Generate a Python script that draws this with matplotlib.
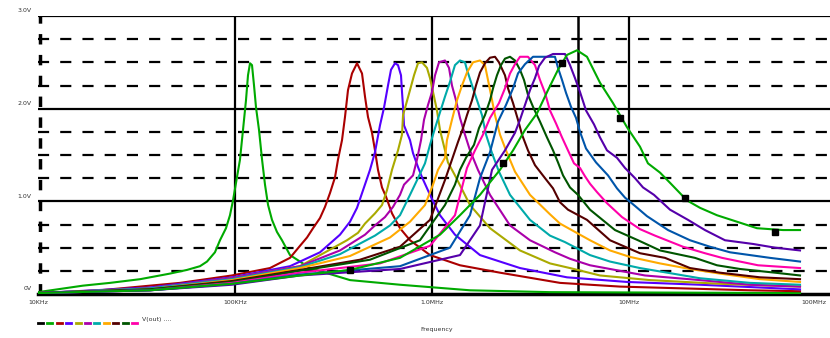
import matplotlib.pyplot as plt
from matplotlib.lines import Line2D

# frequency in kHz, amplitude in V
f_c1 = [10, 16.9, 23.2, 33.0, 46.7, 57.1, 66.4, 72.1, 79.1, 83.9, 90.0, 94.3, 97.7, 101.2, 106.0, 109.8,
        113.7, 116.4, 119.2, 122.0, 124.9, 127.9, 132.4, 137.2, 142.0, 147.2, 154.1, 163.3, 173.2, 190.2,
        240.3, 383.5, 688, 1559, 3972, 73820]
v_c1 = [0.02, 0.09, 0.12, 0.16, 0.22, 0.26, 0.30, 0.35, 0.45, 0.58, 0.71, 0.85, 1.01, 1.20, 1.45, 1.77,
        2.09, 2.36, 2.49, 2.47, 2.25, 2.01, 1.77, 1.45, 1.18, 0.96, 0.80, 0.67, 0.58, 0.42,
        0.28, 0.15, 0.10, 0.04, 0.02, 0.01]

f_c2 = [10, 20.6, 52.6, 96.5, 150.5, 190.2, 213.8, 232.1, 249.0, 270.1, 286.3, 303.6, 321.9, 333.3, 349.3,
        361.7, 374.6, 392.6, 416.3, 441.3, 457.0, 473.3, 496.0, 513.6, 531.9, 557.4, 584.2, 626.6, 688,
        773.3, 977, 1387, 2214, 4465, 9003, 41140, 73820]
v_c2 = [0.01, 0.04, 0.12, 0.20, 0.28, 0.39, 0.52, 0.61, 0.71, 0.82, 0.94, 1.09, 1.26, 1.45, 1.66,
        1.91, 2.20, 2.38, 2.49, 2.38, 2.13, 1.91, 1.74, 1.55, 1.34, 1.15, 1.05, 0.87, 0.71,
        0.58, 0.42, 0.31, 0.23, 0.12, 0.08, 0.04, 0.03]

f_c3 = [10, 37.0, 96.5, 190.2, 270.1, 341.2, 383.5, 416.3, 446.6, 484.5, 513.6, 544.5, 570.6, 597.9,
        619.3, 648.8, 672.1, 696.1, 704.3, 712.8, 721.0, 773.3, 801.1, 849.1, 889.8, 977, 1098, 1308,
        1752, 2797, 4844, 9768, 22930, 73820]
v_c3 = [0.01, 0.07, 0.18, 0.30, 0.45, 0.64, 0.78, 0.93, 1.12, 1.34, 1.53, 1.82, 2.01, 2.25,
        2.42, 2.49, 2.47, 2.36, 2.18, 2.02, 1.82, 1.66, 1.52, 1.37, 1.26, 1.07, 0.85, 0.64,
        0.42, 0.28, 0.18, 0.13, 0.10, 0.05]

f_c4 = [10, 37.0, 96.5, 213.8, 370.2, 421.1, 457.0, 513.6, 557.4, 590.8, 626.6, 672.1, 704.3, 712.8,
        773.3, 810.5, 849.1, 889.8, 943.0, 977, 1024, 1060, 1098, 1164, 1205, 1308, 1559, 1970, 2797,
        3972, 5018, 7126, 12780, 28970, 73820]
v_c4 = [0.01, 0.06, 0.17, 0.30, 0.58, 0.66, 0.76, 0.87, 0.96, 1.12, 1.34, 1.55, 1.72, 1.93,
        2.20, 2.36, 2.49, 2.50, 2.44, 2.33, 2.13, 1.98, 1.77, 1.55, 1.42, 1.28, 0.96, 0.71, 0.47,
        0.33, 0.28, 0.20, 0.15, 0.11, 0.08]

f_c5 = [10, 37.0, 96.5, 213.8, 341.2, 457.0, 513.6, 577.2, 634.1, 688, 721.0, 801.1, 839.0, 879.5,
        910.9, 954.4, 1000, 1036, 1085, 1164, 1220, 1263, 1324, 1387, 1470, 1559, 1711, 1970, 2489,
        3144, 4210, 5018, 6340, 8491, 12050, 22930, 41140, 73820]
v_c5 = [0.01, 0.06, 0.17, 0.30, 0.47, 0.64, 0.74, 0.83, 0.94, 1.07, 1.18, 1.28, 1.45, 1.66,
        1.88, 2.04, 2.18, 2.36, 2.50, 2.52, 2.44, 2.25, 2.09, 1.90, 1.72, 1.55, 1.34, 1.07, 0.74,
        0.58, 0.45, 0.38, 0.31, 0.26, 0.20, 0.15, 0.10, 0.08]

f_c6 = [10, 37.0, 96.5, 213.8, 341.2, 513.6, 612.1, 688, 773.3, 849.1, 921.4, 977, 1036, 1098, 1164,
        1234, 1308, 1387, 1470, 1505, 1615, 1711, 1794, 1880, 2017, 2188, 2489, 3144, 3972, 4733,
        6340, 8010, 11370, 22930, 41140, 73820]
v_c6 = [0.01, 0.06, 0.16, 0.29, 0.43, 0.63, 0.74, 0.85, 1.07, 1.25, 1.41, 1.61, 1.79, 1.96, 2.13,
        2.29, 2.47, 2.52, 2.50, 2.42, 2.22, 2.06, 1.93, 1.72, 1.52, 1.32, 1.07, 0.80, 0.63, 0.56,
        0.42, 0.35, 0.28, 0.17, 0.12, 0.10]

f_c7 = [10, 37.0, 96.5, 213.8, 383.5, 612.1, 773.3, 921.4, 1012, 1073, 1164, 1191, 1263, 1339, 1420,
        1505, 1615, 1752, 1857, 1924, 1993, 2088, 2214, 2375, 2638, 3144, 3972, 4465, 5319, 6340,
        8010, 10120, 14370, 20400, 28970, 46240, 73820]
v_c7 = [0.01, 0.05, 0.15, 0.28, 0.41, 0.61, 0.78, 0.96, 1.18, 1.34, 1.47, 1.66, 1.88, 2.09, 2.25,
        2.39, 2.50, 2.52, 2.47, 2.31, 2.15, 1.93, 1.72, 1.55, 1.32, 1.07, 0.86, 0.76, 0.67, 0.58,
        0.47, 0.40, 0.33, 0.27, 0.22, 0.16, 0.13]

f_c8 = [10, 37.0, 96.5, 213.8, 431.1, 688, 977, 1164, 1263, 1355, 1437, 1505, 1596, 1672, 1752, 1857,
        1970, 2088, 2188, 2347, 2431, 2579, 2732, 2863, 3071, 3333, 3747, 4115, 4465, 4901, 6120,
        8010, 11370, 15230, 20400, 28970, 46240, 73820]
v_c8 = [0.01, 0.05, 0.14, 0.26, 0.37, 0.51, 0.80, 1.23, 1.45, 1.64, 1.79, 1.93, 2.09, 2.25, 2.39, 2.49,
        2.55, 2.56, 2.50, 2.36, 2.22, 2.06, 1.88, 1.72, 1.55, 1.39, 1.25, 1.14, 0.99, 0.91, 0.80,
        0.58, 0.44, 0.39, 0.28, 0.23, 0.18, 0.16]

f_c9 = [10, 37.0, 96.5, 213.8, 484.5, 869.2, 1164, 1308, 1387, 1488, 1634, 1732, 1857, 1970, 2041,
        2137, 2240, 2347, 2489, 2638, 2797, 2931, 3071, 3257, 3534, 3834, 4115, 4362, 4626, 5018,
        5510, 6340, 8491, 11110, 14370, 21620, 27960, 36600, 55120, 73820]
v_c9 = [0.01, 0.05, 0.13, 0.25, 0.37, 0.58, 0.96, 1.18, 1.34, 1.47, 1.61, 1.79, 1.93, 2.09, 2.22,
        2.36, 2.47, 2.54, 2.56, 2.52, 2.42, 2.31, 2.15, 2.02, 1.86, 1.69, 1.55, 1.42, 1.28, 1.15,
        1.07, 0.91, 0.69, 0.58, 0.47, 0.39, 0.31, 0.27, 0.23, 0.20]

f_c10 = [10, 37.0, 96.5, 213.8, 544.5, 977, 1308, 1505, 1653, 1815, 1970, 2188, 2347, 2489, 2638,
         2797, 3071, 3333, 3534, 3747, 3972, 4262, 4571, 4901, 5259, 5641, 5980, 6340, 6878, 7732,
         9216, 11370, 13550, 18800, 24300, 29660, 45170, 73820]
v_c10 = [0.01, 0.04, 0.12, 0.23, 0.33, 0.52, 0.85, 1.36, 1.55, 1.72, 1.90, 2.06, 2.22, 2.38, 2.48,
         2.56, 2.56, 2.47, 2.31, 2.17, 1.98, 1.84, 1.69, 1.55, 1.41, 1.36, 1.27, 1.19, 1.10, 0.98,
         0.83, 0.70, 0.63, 0.51, 0.44, 0.39, 0.31, 0.28]

f_c11 = [10, 37.0, 96.5, 213.8, 688, 1234, 1559, 1752, 1970, 2163, 2375, 2579, 2732, 2965, 3257,
         4210, 4362, 4571, 4791, 5077, 5384, 5641, 6052, 6802, 7825, 8691, 9543, 10730, 12340,
         15780, 20400, 25770, 32560, 41140, 51970, 73820]
v_c11 = [0.01, 0.04, 0.11, 0.21, 0.30, 0.50, 0.85, 1.25, 1.53, 1.86, 2.04, 2.22, 2.38, 2.48, 2.56,
         2.56, 2.44, 2.31, 2.17, 2.02, 1.90, 1.75, 1.57, 1.42, 1.28, 1.14, 1.04, 0.95, 0.84,
         0.69, 0.58, 0.51, 0.45, 0.42, 0.39, 0.35]

f_c12 = [10, 37.0, 96.5, 213.8, 688, 1387, 1752, 2017, 2347, 2638, 2797, 2965, 3144, 3333, 3493,
         3747, 4115, 4733, 5018, 5319, 5641, 6052, 6645, 7126, 7732, 8691, 9543, 10730, 11780,
         13390, 16150, 19930, 24300, 30710, 42620, 55120, 73820]
v_c12 = [0.01, 0.04, 0.10, 0.20, 0.27, 0.42, 0.74, 1.34, 1.55, 1.74, 1.88, 2.04, 2.20, 2.33, 2.46,
         2.55, 2.59, 2.59, 2.47, 2.33, 2.18, 1.98, 1.83, 1.69, 1.55, 1.47, 1.36, 1.25, 1.15,
         1.07, 0.91, 0.80, 0.69, 0.58, 0.54, 0.50, 0.47]

f_c13 = [10, 37.0, 96.5, 213.8, 383.5, 688, 1098, 1387, 1752, 2214, 2579, 2965, 3413, 3880, 4362,
         4844, 5447, 6120, 7126, 8298, 9768, 11370, 12480, 14370, 16150, 19690, 22930, 27960,
         35330, 44630, 60530, 73820]
v_c13 = [0.01, 0.04, 0.11, 0.20, 0.26, 0.39, 0.64, 0.85, 1.07, 1.34, 1.55, 1.77, 1.95, 2.20, 2.42,
         2.58, 2.63, 2.56, 2.28, 2.06, 1.80, 1.59, 1.41, 1.31, 1.20, 1.01, 0.93, 0.85,
         0.78, 0.71, 0.69, 0.69]

# black square markers sitting on the last trace
f_marks = [383.5, 2294, 4571, 9003, 19240, 55120]
v_marks = [0.26, 1.41, 2.49, 1.90, 1.04, 0.67]

curve_colors = ["#00aa00", "#aa0000", "#5500ff", "#aaaa00", "#aa00aa", "#00aaaa", "#ffaa00",
                "#550000", "#005500", "#ff00aa", "#0055aa", "#5500aa", "#00aa00"]
legend_colors = ["#000000", "#00aa00", "#aa0000", "#5500ff", "#aaaa00", "#aa00aa", "#00aaaa",
                 "#ffaa00", "#550000", "#005500", "#ff00aa"]

x_ticks = [10, 100, 1000, 10000, 100000]
x_tick_labels = ["10KHz", "100KHz", "1.0MHz", "10MHz", "100MHz"]
y_ticks = [0, 1, 2, 3]
y_tick_labels = ["0V", "1.0V", "2.0V", "3.0V"]
cursor_khz = 5508

curves = [(f_c1, v_c1), (f_c2, v_c2), (f_c3, v_c3), (f_c4, v_c4), (f_c5, v_c5), (f_c6, v_c6),
          (f_c7, v_c7), (f_c8, v_c8), (f_c9, v_c9), (f_c10, v_c10), (f_c11, v_c11),
          (f_c12, v_c12), (f_c13, v_c13)]

W, H = 830, 338
fig = plt.figure(figsize=(W / 100, H / 100), dpi=100)
ax = fig.add_axes([38 / W, 44 / H, 1 - 38 / W, 278 / H])
ax.set_xscale("log")
ax.set_xlim(10, 104800)
ax.set_ylim(0, 3)

# grid: solid majors, dashed quarters
for y in [1, 2, 3]:
    ax.axhline(y, color="black", lw=1.6, zorder=1)
for k in range(12):
    if k % 4:
        ax.axhline(k * 0.25, color="black", lw=1.6, dashes=(5, 5), zorder=1)
for x in x_ticks[1:4]:
    ax.axvline(x, color="black", lw=1.6, zorder=1)
ax.axvline(cursor_khz, color="black", lw=1.8, zorder=1)

for (f, v), c in zip(curves, curve_colors):
    ax.plot(f, v, color=c, lw=1.5, zorder=3)
ax.plot(f_marks, v_marks, ls="none", marker="s", ms=4, color="black", zorder=4)

for side in ["top", "right", "left"]:
    ax.spines[side].set_visible(False)
ax.spines["bottom"].set_linewidth(2.5)
ax.axvline(10.2, color="black", lw=2.5, dashes=(3, 3), zorder=2, clip_on=False)

ax.set_xticks(x_ticks)
ax.set_xticklabels(x_tick_labels, fontsize=4.5, color="#333333")
ax.get_xticklabels()[-1].set_horizontalalignment("right")
ax.minorticks_off()
ax.tick_params(axis="x", length=0, pad=4)
ax.set_yticks([])
for y, lab in zip(y_ticks, y_tick_labels):
    ax.text(-0.008, y + 0.03, lab, transform=ax.get_yaxis_transform(), ha="right", va="bottom",
            fontsize=4.5, color="#333333")

fig.text(437 / W, 1 - 330 / H, "Frequency", ha="center", va="center", fontsize=4.5, color="#333333")

# legend strip at the bottom left
for i, c in enumerate(legend_colors):
    x0 = 38 + i * 9.4
    fig.add_artist(Line2D([x0 / W, (x0 + 5) / W], [1 - 323 / H] * 2, color=c, lw=2,
                          transform=fig.transFigure))
fig.text(142 / W, 1 - 320 / H, "V(out) ....", ha="left", va="center", fontsize=4.5, color="#333333")

fig.savefig("out.png", dpi=100)
